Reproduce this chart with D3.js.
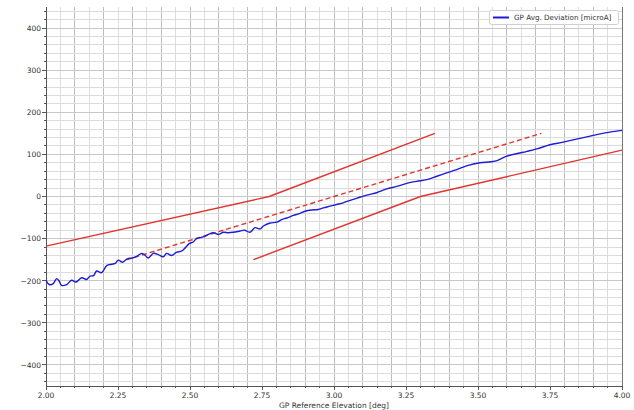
<!DOCTYPE html>
<html><head><meta charset="utf-8">
<script src="https://cdn.jsdelivr.net/npm/d3@7"></script>
<style>body{margin:0;background:#fff}svg{display:block}text{font-family:"DejaVu Sans",sans-serif;fill:#333}</style>
</head><body><svg id="c" width="634" height="410"></svg>
<script>
const xDomain = [2.0, 4.0];
const yDomain = [-450, 450];
const xTickLabels = [2.00, 2.25, 2.50, 2.75, 3.00, 3.25, 3.50, 3.75, 4.00];
const yTickLabels = [-400, -300, -200, -100, 0, 100, 200, 300, 400];
const seriesName = "GP Avg. Deviation [microA]";
const xTitle = "GP Reference Elevation [deg]";
// blue measured series
const devX = [2.000,2.011,2.025,2.037,2.045,2.054,2.072,2.089,2.104,2.124,2.141,2.153,2.165,2.176,2.193,2.211,2.228,2.240,2.251,2.266,2.282,2.300,2.315,2.332,2.343,2.355,2.373,2.390,2.407,2.419,2.436,2.454,2.470,2.483,2.497,2.511,2.523,2.546,2.564,2.581,2.599,2.616,2.633,2.650,2.674,2.690,2.708,2.726,2.743,2.755,2.778,2.801,2.818,2.836,2.859,2.882,2.899,2.922,2.945,2.963,2.986,3.009,3.032,3.056,3.080,3.102,3.125,3.148,3.183,3.218,3.252,3.287,3.322,3.357,3.391,3.426,3.466,3.507,3.559,3.600,3.657,3.704,3.750,3.796,3.854,3.912,3.958,4.000];
const devY = [-199,-209,-207,-195,-200,-211,-209,-199,-203,-193,-197,-189,-188,-177,-181,-164,-161,-159,-151,-156,-148,-146,-142,-135,-139,-146,-135,-138,-143,-135,-140,-132,-130,-122,-112,-108,-100,-96,-90,-86,-90,-85,-86,-85,-82,-80,-85,-74,-77,-70,-63,-61,-55,-51,-45,-40,-35,-32,-31,-27,-23,-19,-15,-9,-4,1,5,9,18,24,31,36,40,48,56,64,74,80,84,96,105,113,123,129,138,147,153,157];
// red limit lines
const upperX = [2.0, 2.775, 3.35];
const upperY = [-118, 0, 150];
const lowerX = [2.72, 3.30, 4.0];
const lowerY = [-150, 0, 110];
const nominalX = [2.28, 3.72];
const nominalY = [-150, 150];

const W = 634, H = 410, m = {l:46, r:12, t:7, b:24};
const svg = d3.select("#c");
const x = d3.scaleLinear().domain(xDomain).range([m.l, W - m.r]);
const y = d3.scaleLinear().domain(yDomain).range([H - m.b, m.t]);

// grid
const g = svg.append("g");
const xMinor = d3.range(0, 41).map(i => 2 + i * 0.05);
xMinor.forEach((v, i) => {
  g.append("line").attr("x1", x(v)).attr("x2", x(v)).attr("y1", y(yDomain[0])).attr("y2", y(yDomain[1]))
   .attr("stroke", i % 2 === 0 ? "#bdbdbd" : "#dedede").attr("stroke-width", 1).attr("shape-rendering","crispEdges");
});
const yMinor = d3.range(-440, 451, 20);
yMinor.forEach(v => {
  g.append("line").attr("x1", x(xDomain[0])).attr("x2", x(xDomain[1])).attr("y1", y(v)).attr("y2", y(v))
   .attr("stroke", v % 100 === 0 ? "#c8c8c8" : "#dcdcdc").attr("stroke-width", 1).attr("shape-rendering","crispEdges");
});

// axes lines
svg.append("line").attr("x1", m.l).attr("x2", m.l).attr("y1", m.t).attr("y2", H - m.b).attr("stroke", "#555").attr("shape-rendering","crispEdges");
svg.append("line").attr("x1", W - m.r).attr("x2", W - m.r).attr("y1", m.t).attr("y2", H - m.b).attr("stroke", "#777").attr("shape-rendering","crispEdges");
svg.append("line").attr("x1", m.l).attr("x2", W - m.r).attr("y1", H - m.b).attr("y2", H - m.b).attr("stroke", "#555").attr("shape-rendering","crispEdges");

// ticks
xMinor.forEach(v => {
  const major = xTickLabels.some(t => Math.abs(t - v) < 1e-6);
  svg.append("line").attr("x1", x(v)).attr("x2", x(v)).attr("y1", H - m.b).attr("y2", H - m.b + (major ? 4 : 2)).attr("stroke", "#555").attr("shape-rendering","crispEdges");
});
yMinor.forEach(v => {
  const major = v % 100 === 0;
  svg.append("line").attr("x1", m.l - (major ? 4 : 2)).attr("x2", m.l).attr("y1", y(v)).attr("y2", y(v)).attr("stroke", "#555").attr("shape-rendering","crispEdges");
});
const fx = d3.format(".2f"), fy = d3.format("d");
xTickLabels.forEach(v => {
  svg.append("text").attr("x", x(v)).attr("y", H - m.b + 12).attr("text-anchor", "middle").attr("font-size", 7.5).text(fx(v));
});
yTickLabels.forEach(v => {
  svg.append("text").attr("x", m.l - 5).attr("y", y(v) + 2.8).attr("text-anchor", "end").attr("font-size", 7.5).text(fy(v));
});
svg.append("text").attr("x", (x(xDomain[0]) + x(xDomain[1])) / 2).attr("y", H - 2).attr("text-anchor", "middle").attr("font-size", 7.5).text(xTitle);

// lines
const line = d3.line().x(d => x(d[0])).y(d => y(d[1]));
const zip = (a, b) => a.map((v, i) => [v, b[i]]);
const plot = svg.append("g");
plot.append("path").attr("d", line(zip(upperX, upperY))).attr("fill", "none").attr("stroke", "#e2332e").attr("stroke-width", 1.4);
plot.append("path").attr("d", line(zip(lowerX, lowerY))).attr("fill", "none").attr("stroke", "#e2332e").attr("stroke-width", 1.4);
plot.append("path").attr("d", line(zip(nominalX, nominalY))).attr("fill", "none").attr("stroke", "#e2332e").attr("stroke-width", 1.4).attr("stroke-dasharray", "5,3");
plot.append("path").attr("d", line.curve(d3.curveCatmullRom)(zip(devX, devY))).attr("fill", "none").attr("stroke", "#1c1cd6").attr("stroke-width", 1.4);

// legend
const lg = svg.append("g");
lg.append("rect").attr("x", 489.5).attr("y", 10.5).attr("width", 129).attr("height", 14).attr("rx", 2).attr("fill", "#fff").attr("stroke", "#cfcfcf");
lg.append("line").attr("x1", 493).attr("x2", 509).attr("y1", 17.5).attr("y2", 17.5).attr("stroke", "#1c1cd6").attr("stroke-width", 2);
lg.append("text").attr("x", 514).attr("y", 20.2).attr("font-size", 7.2).text(seriesName);
</script></body></html>
